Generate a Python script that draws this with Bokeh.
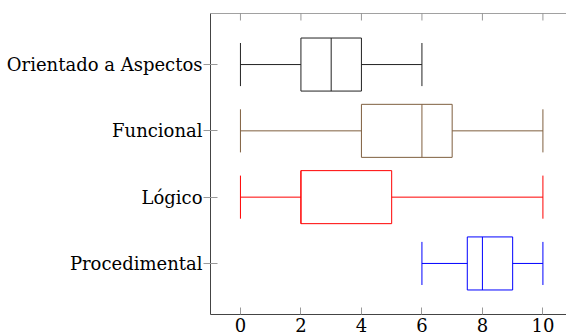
import math
from bokeh.plotting import figure
from bokeh.models import LinearAxis, FixedTicker, Range1d, Span
from bokeh.embed import file_html
from bokeh.resources import INLINE

# Data (top to bottom as in the chart)
categories = ["Orientado a Aspectos", "Funcional", "Lógico", "Procedimental"]
mins = [0, 0, 0, 6]
q1s = [2, 4, 2, 7.5]
medians = [3, 6, 2, 8]
q3s = [4, 7, 5, 9]
maxs = [6, 10, 10, 10]
colors = ["#222222", "#7F5F3F", "#FF0000", "#0000FF"]
x_ticks = [0, 2, 4, 6, 8, 10]

n = len(categories)
ypos = [n - i for i in range(n)]

FONT = "DejaVu Serif"
BOX_H = 0.8
CAP_H = 0.65
Y0, Y1 = 0.23, 4.77
X0, X1 = -0.99, 10.78

p = figure(width=566, height=336, output_backend="svg", toolbar_location=None,
           x_range=Range1d(X0, X1), y_range=Range1d(Y0, Y1),
           x_axis_location=None, y_axis_location=None,
           min_border_left=210, min_border_top=13, min_border_right=0, min_border_bottom=22)
p.outline_line_color = None
p.xgrid.visible = False
p.ygrid.visible = False
p.background_fill_color = "white"

for i in range(n):
    y = ypos[i]
    c = colors[i]
    p.quad(left=[q1s[i]], right=[q3s[i]], bottom=[y - BOX_H / 2], top=[y + BOX_H / 2],
           fill_color=None, line_color=c, line_width=1)
    p.segment(x0=[medians[i]], x1=[medians[i]], y0=[y - BOX_H / 2], y1=[y + BOX_H / 2],
              line_color=c, line_width=1)
    p.segment(x0=[mins[i], q3s[i]], x1=[q1s[i], maxs[i]], y0=[y, y], y1=[y, y],
              line_color=c, line_width=1)
    p.segment(x0=[mins[i], maxs[i]], x1=[mins[i], maxs[i]],
              y0=[y - CAP_H / 2, y - CAP_H / 2], y1=[y + CAP_H / 2, y + CAP_H / 2],
              line_color=c, line_width=1)

AXIS_COL = "#444444"
TICK_COL = "#999999"

# bottom axis
xb = LinearAxis(ticker=FixedTicker(ticks=x_ticks))
xb.major_tick_in = 7
xb.major_tick_out = 0
xb.minor_tick_line_color = None
xb.axis_line_color = AXIS_COL
xb.major_tick_line_color = TICK_COL
xb.major_label_text_font = FONT
xb.major_label_text_font_size = "18px"
xb.major_label_text_color = "black"
xb.major_label_standoff = 3
p.add_layout(xb, "below")

# top frame line with inward ticks
p.add_layout(Span(location=Y1, dimension="width", line_color=AXIS_COL, line_width=1))
p.ray(x=x_ticks, y=[Y1] * len(x_ticks), length=7, length_units="screen",
      angle=-math.pi / 2, line_color=TICK_COL, line_width=1)

# left axis
yl = LinearAxis(ticker=FixedTicker(ticks=ypos))
yl.major_label_overrides = {ypos[i]: categories[i] for i in range(n)}
yl.major_tick_in = 7
yl.major_tick_out = 7
yl.minor_tick_line_color = None
yl.axis_line_color = AXIS_COL
yl.major_tick_line_color = TICK_COL
yl.major_label_text_font = FONT
yl.major_label_text_font_size = "18px"
yl.major_label_text_color = "black"
yl.major_label_standoff = 1
p.add_layout(yl, "left")

open("out.html", "w").write(file_html(p, INLINE))
